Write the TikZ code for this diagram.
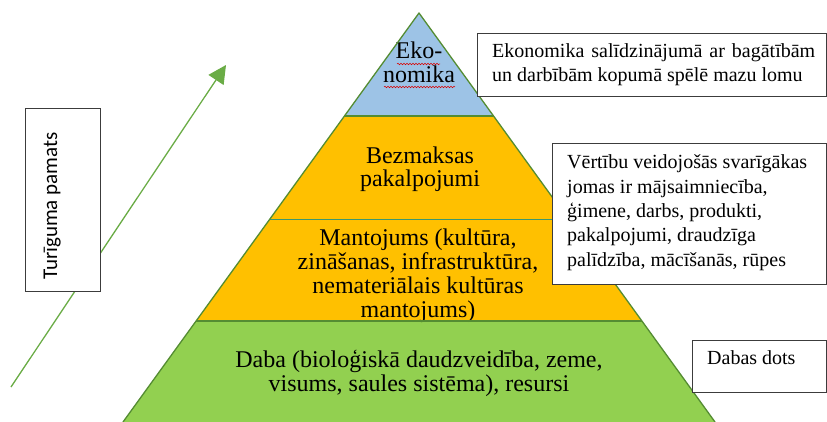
\documentclass[tikz,border=0pt]{standalone}
\usepackage{fontspec}
\setmainfont{Liberation Serif}
\newfontfamily\calib{Carlito}
\usetikzlibrary{arrows.meta,calc,decorations.pathmorphing}
\definecolor{ekoblue}{RGB}{157,195,230}
\definecolor{goldy}{RGB}{255,192,0}
\definecolor{grassy}{RGB}{146,208,80}
\definecolor{edgegreen}{RGB}{84,140,50}
\definecolor{tealline}{RGB}{60,150,110}
\definecolor{arrowgreen}{RGB}{106,172,70}
\definecolor{boxline}{RGB}{60,60,60}
\begin{document}
\begin{tikzpicture}[x=1pt,y=-1pt,
  pyrtext/.style={font=\fontsize{24}{24}\selectfont, align=center, inner sep=0pt, anchor=base},
  boxtext/.style={font=\fontsize{20}{24.3}\selectfont, align=left, inner sep=0pt, anchor=base west},
  infobox/.style={draw=boxline, line width=1pt, fill=white, anchor=north west, inner sep=0pt},
  wavy/.style={red!85!black, line width=0.5pt, decorate, decoration={snake, amplitude=0.8pt, segment length=3pt}}]
\useasboundingbox (0,0) rectangle (827,422);
% pyramid geometry
\coordinate (apex) at (419,13);
\coordinate (bl) at (123,422);
\coordinate (br) at (715,422);
\coordinate (l1) at ($(apex)!0.2518!(bl)$);
\coordinate (r1) at ($(apex)!0.2518!(br)$);
\coordinate (l2) at ($(apex)!0.5037!(bl)$);
\coordinate (r2) at ($(apex)!0.5037!(br)$);
\coordinate (l3) at ($(apex)!0.7531!(bl)$);
\coordinate (r3) at ($(apex)!0.7531!(br)$);
% layers
\fill[grassy] (l3) -- (r3) -- (br) -- (bl) -- cycle;
\fill[goldy] (l1) -- (r1) -- (r3) -- (l3) -- cycle;
\fill[ekoblue] (apex) -- (r1) -- (l1) -- cycle;
% pyramid texts (anchor = baseline of last line)
\node[pyrtext] (eko) at (419,83) {Eko-\\nomika};
\node[pyrtext] (bez) at (420,187) {Bezmaksas\\pakalpojumi};
\node[pyrtext] (man) at (418,317) {Mantojums (kultūra,\\zināšanas, infrastruktūra,\\nemateriālais kultūras\\mantojums)};
\node[pyrtext] (dab) at (419,391) {Daba (bioloģiskā daudzveidība, zeme,\\visums, saules sistēma), resursi};
\draw[wavy] (397,64) -- (440,64);
\draw[wavy] (384,87) -- (455,87);
% layer boundaries and outline
\draw[tealline, line width=1pt] (l2) -- (r2);
\draw[edgegreen, line width=1.2pt] (l1) -- (r1);
\draw[edgegreen, line width=1.2pt] (l3) -- (r3);
\draw[edgegreen, line width=1.3pt, line join=round] (bl) -- (apex) -- (br);
% arrow
\coordinate (as) at (11,387);
\coordinate (ae) at (226,65);
\draw[arrowgreen, line width=1.3pt, -{Triangle[length=18pt,width=18pt]}] (as) -- (ae);
% left box
\node[infobox, minimum width=75pt, minimum height=183pt] (tbox) at (25,108) {};
\node[font=\calib\fontsize{21}{21}\selectfont, rotate=90, anchor=base, inner sep=0pt] (tlabel) at (57,206) {Turīguma pamats};
% info boxes
\node[infobox, minimum width=349pt, minimum height=63pt] (b1) at (477,33) {};
\node[boxtext] (t1) at (492,82) {\hbox to 323pt{Ekonomika\hfill salīdzinājumā\hfill ar\hfill bagātībām}\\un darbībām kopumā spēlē mazu lomu};
\node[infobox, minimum width=274pt, minimum height=141pt] (b2) at (552,143) {};
\node[boxtext] (t2) at (567,266) {Vērtību veidojošās svarīgākas\\jomas ir mājsaimniecība,\\ģimene, darbs, produkti,\\pakalpojumi, draudzīga\\palīdzība, mācīšanās, rūpes};
\node[infobox, minimum width=134pt, minimum height=52pt] (b3) at (692,340) {};
\node[boxtext] (t3) at (707,364) {Dabas dots};
\end{tikzpicture}
\end{document}
